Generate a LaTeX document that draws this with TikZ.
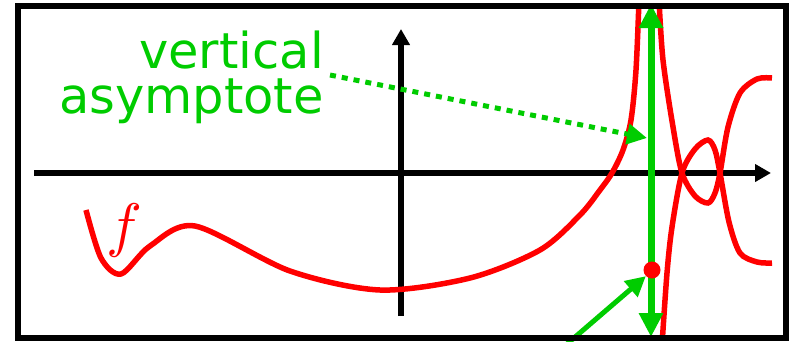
\documentclass[tikz,border=0pt]{standalone}
\usepackage{fontspec}
\newfontfamily\labelfont{DejaVu Sans}
\usetikzlibrary{arrows.meta}
\definecolor{asygreen}{RGB}{0,204,0}
\begin{document}
\begin{tikzpicture}[x=1pt,y=-1pt,
    axis/.style={line width=5.5pt,-{Triangle[length=16pt,width=17pt]}},
    curve/.style={red,line width=5.5pt},
    pointer/.style={asygreen,line width=5pt,-{Triangle[length=20pt,width=20pt]}}]
    \useasboundingbox (0,0) rectangle (790,341);

    % Definir los puntos principales
    \coordinate (X0) at (34,173);
    \coordinate (X1) at (771,173);
    \coordinate (Y0) at (401,316);
    \coordinate (Y1) at (401,29);
    \coordinate (Atop) at (651,4);
    \coordinate (Abot) at (651,337);
    \coordinate (Ahit) at (647,138);
    \coordinate (Tail) at (560,350);

    % Ejes
    \draw[axis] (X0) -- (X1);
    \draw[axis] (Y0) -- (Y1);

    % Grafica de f
    \begin{scope}
        \clip (18,5) rectangle (786,337);
        \draw[curve] plot[smooth] coordinates {(86,210) (101,258) (121,274) (150,246) (195,226) (290,271) (380,290) (470,278) (540,250) (580,215) (600,190) (612,173) (623,150) (631,120) (636,70) (639,0)};
        \draw[curve] plot[smooth] coordinates {(659,0) (663,60) (673,127) (682,173) (695,196) (708,203) (715,193) (720,173) (728,127) (740,93) (757,79) (772,78)};
        \draw[curve] plot[smooth] coordinates {(662,345) (667,273) (672,227) (682,173) (695,149) (708,140) (715,150) (720,173) (729,222) (740,253) (757,262) (772,263)};
    \end{scope}
    \node[red,inner sep=0pt,scale=6] (f) at (124,230) {$f$};

    % Asintota vertical
    \draw[asygreen,line width=7pt,{Triangle[length=24pt,width=23pt]}-{Triangle[length=24pt,width=23pt]}] (Abot) -- (Atop);
    \node[circle,fill=red,inner sep=0pt,minimum size=17pt] (dot) at (652,270) {};

    % Etiqueta
    \node[asygreen,anchor=base east,align=right,inner sep=0pt,font=\labelfont\fontsize{49.5}{45}\selectfont] (asym) at (324,113) {vertical\\asymptote};
    \draw[pointer,dash pattern=on 6pt off 6pt] (330,75) -- (Ahit);
    \draw[pointer] (Tail) -- (dot.south west);

    % Marco
    \draw[line width=6pt] (18,5.5) rectangle (786,337.5);
\end{tikzpicture}
\end{document}
